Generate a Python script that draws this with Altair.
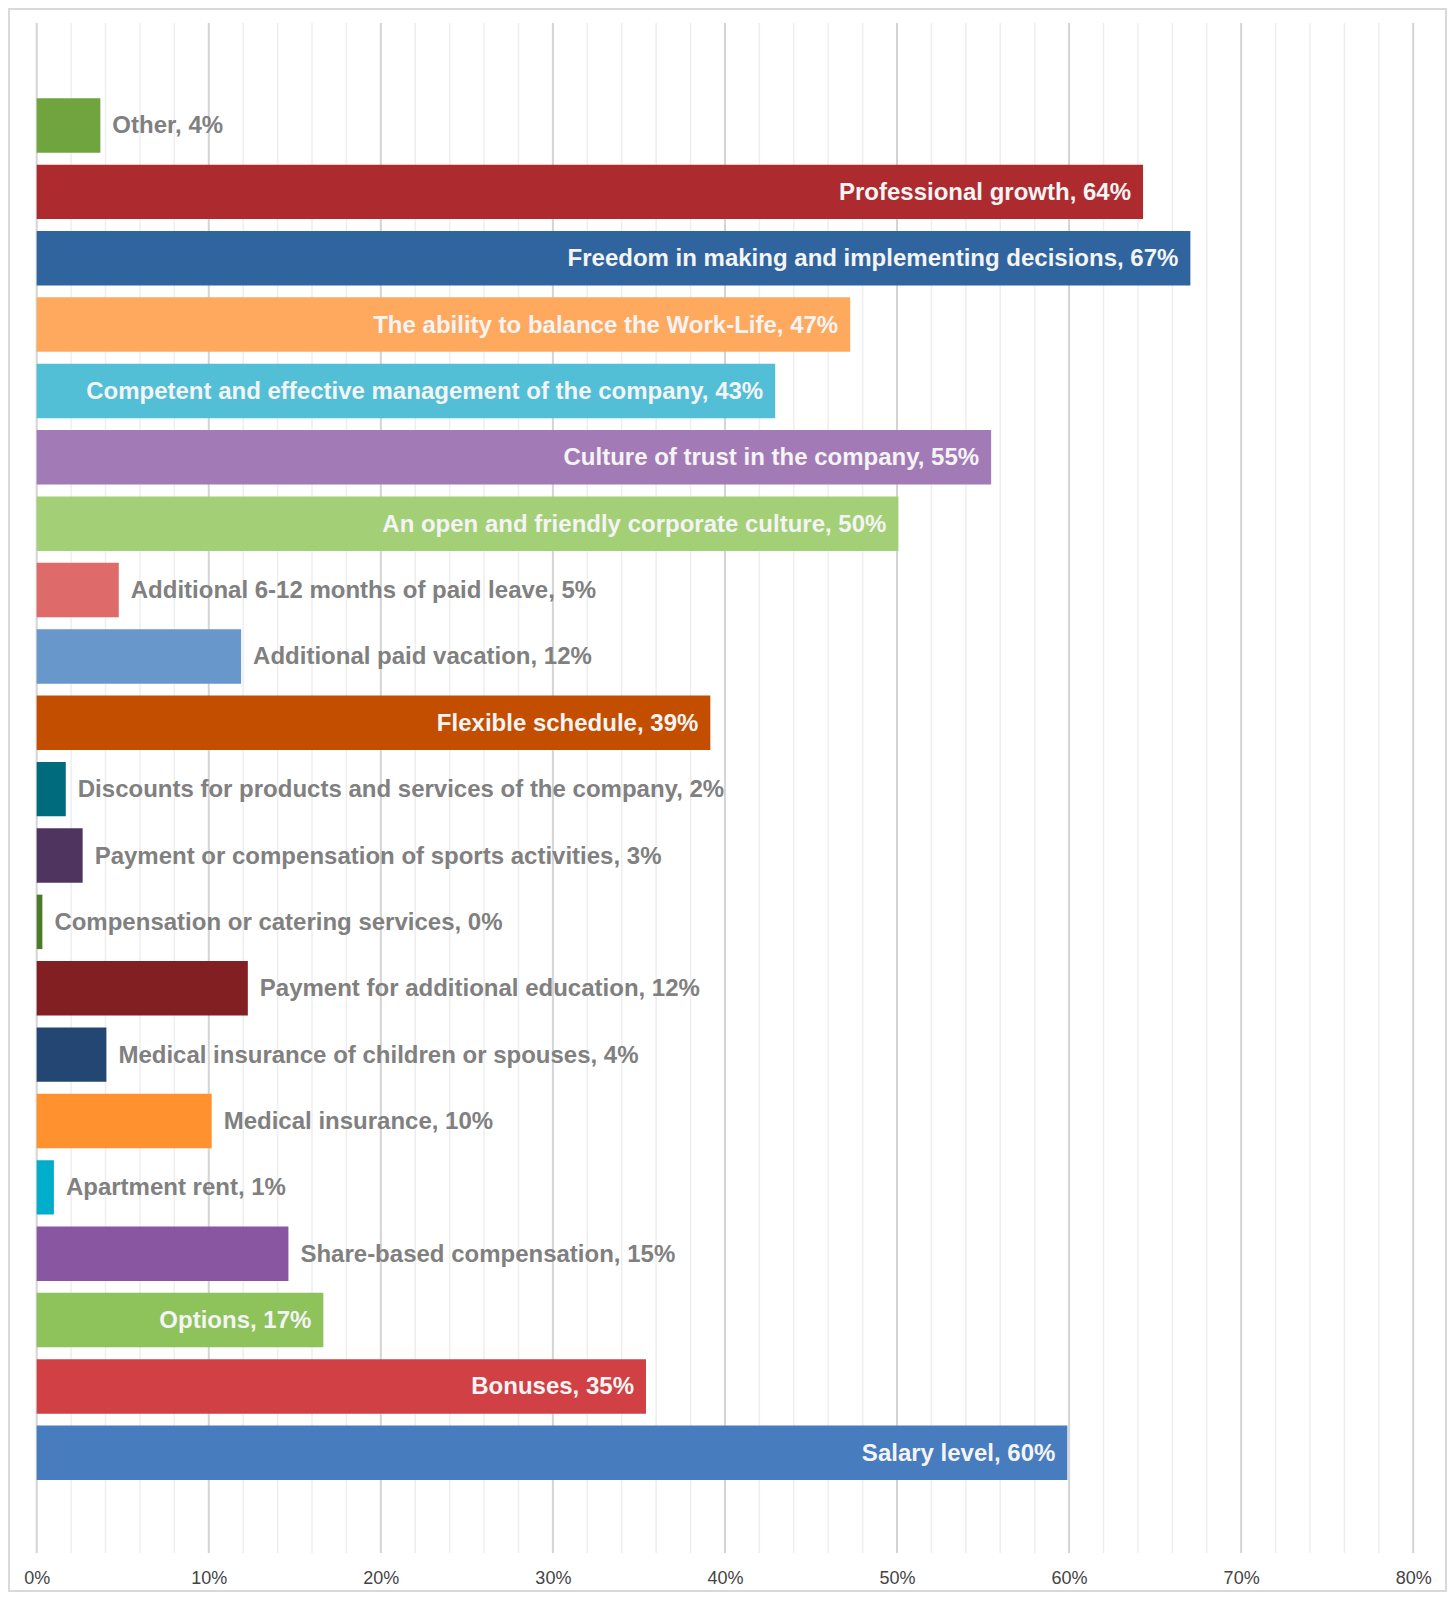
import altair as alt
import pandas as pd

categories = [
    "Other",
    "Professional growth",
    "Freedom in making and implementing decisions",
    "The ability to balance the Work-Life",
    "Competent and effective management of the company",
    "Culture of trust in the company",
    "An open and friendly corporate culture",
    "Additional 6-12 months of paid leave",
    "Additional paid vacation",
    "Flexible schedule",
    "Discounts for products and services of the company",
    "Payment or compensation of sports activities",
    "Compensation or catering services",
    "Payment for additional education",
    "Medical insurance of children or spouses",
    "Medical insurance",
    "Apartment rent",
    "Share-based compensation",
    "Options",
    "Bonuses",
    "Salary level",
]
values = [3.7, 64.3, 67.05, 47.28, 42.92, 55.47, 50.08, 4.77, 11.88, 39.15,
          1.69, 2.67, 0.33, 12.27, 4.05, 10.17, 1.0, 14.63, 16.66, 35.41, 59.9]
colors = ["#6fa43e", "#ad2a2e", "#2f649e", "#ffa95f", "#52bfd6", "#a27bb6",
          "#a3cf77", "#de6a6a", "#6897cb", "#c34e00", "#006b7d", "#4f3460",
          "#4e7a27", "#821f22", "#234673", "#ff912e", "#00aecb", "#8957a1",
          "#8dc35a", "#d04044", "#477cbe"]
major_ticks = list(range(0, 81, 10))
minor_ticks = [t for t in range(0, 81, 2) if t % 10 != 0]

W, H = 1376.5, 1530
PAD_L, PAD_T = 28.7, 15
PAD_R = 1439 - PAD_L - W
PAD_B = 1584 - PAD_T - H
FS = 24
PX_PER_UNIT = W / 80.0
BAND_RANGE = [69.3, 1463]

labels = [f"{c}, {int(round(v))}%" for c, v in zip(categories, values)]
inside = [(len(l) * 0.52 * FS + 24) < v * PX_PER_UNIT for l, v in zip(labels, values)]

df = pd.DataFrame({"cat": categories, "val": values, "label": labels, "inside": inside})

yenc = alt.Y("cat:N", sort=categories, axis=None,
             scale=alt.Scale(paddingInner=0.18, paddingOuter=0.09, range=BAND_RANGE))
xscale = alt.Scale(domain=[0, 80], nice=False)
xaxis = alt.Axis(values=major_ticks, title=None, domain=False, ticks=False,
                 grid=False, labelOverlap=False, labelFlush=False,
                 labelExpr="datum.value + '%'",
                 labelFont="Liberation Sans", labelFontSize=18,
                 labelColor="#444444", labelPadding=16)

minor_grid = alt.Chart(pd.DataFrame({"t": minor_ticks})).mark_rule(
    color="#eeeeee", strokeWidth=1.5
).encode(x=alt.X("t:Q", scale=xscale, axis=xaxis))

major_grid = alt.Chart(pd.DataFrame({"t": major_ticks})).mark_rule(
    color="#d4d4d4", strokeWidth=2
).encode(x=alt.X("t:Q", scale=xscale, axis=xaxis))

bars = alt.Chart(df).mark_bar().encode(
    x=alt.X("val:Q", scale=xscale, axis=xaxis),
    y=yenc,
    color=alt.Color("cat:N", scale=alt.Scale(domain=categories, range=colors), legend=None),
)

txt_in = alt.Chart(df).transform_filter("datum.inside").mark_text(
    align="right", baseline="middle", dx=-12, dy=1, font="Liberation Sans",
    fontWeight="bold", fontSize=FS, color="#f4f4f4"
).encode(x=alt.X("val:Q", scale=xscale, axis=xaxis), y=yenc, text="label:N")

txt_out = alt.Chart(df).transform_filter("!datum.inside").mark_text(
    align="left", baseline="middle", dx=12, dy=1, font="Liberation Sans",
    fontWeight="bold", fontSize=FS, color="#808080"
).encode(x=alt.X("val:Q", scale=xscale, axis=xaxis), y=yenc, text="label:N")

border = alt.Chart(alt.Data(values=[{"a": 1}])).mark_rect(
    fill=None, stroke="#d9d9d9", strokeWidth=2
).encode(
    x=alt.value(-PAD_L + 1), x2=alt.value(W + PAD_R - 1),
    y=alt.value(-PAD_T + 1), y2=alt.value(H + PAD_B - 1),
)

chart = alt.layer(minor_grid, major_grid, bars, txt_in, txt_out, border).properties(
    width=W, height=H,
    autosize=alt.AutoSizeParams(type="none"),
    padding={"left": PAD_L, "top": PAD_T, "right": PAD_R, "bottom": PAD_B},
).configure_view(stroke=None)

chart.save("out.html", embed_options={"renderer": "svg", "actions": False})
